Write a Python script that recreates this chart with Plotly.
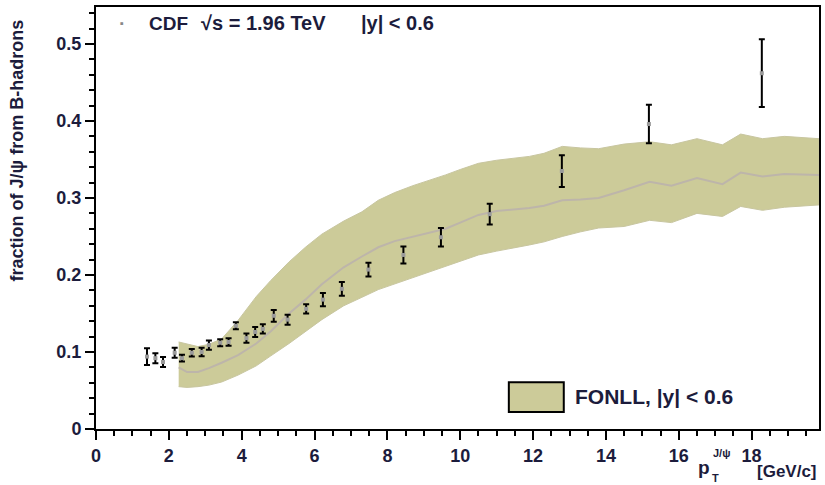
import plotly.graph_objects as go

# CDF data points
pt = [1.40, 1.63, 1.84, 2.16, 2.36, 2.63, 2.90, 3.10, 3.41, 3.64, 3.84, 4.13, 4.37, 4.58,
      4.88, 5.26, 5.77, 6.23, 6.75, 7.48, 8.44, 9.47, 10.81, 12.79, 15.18, 18.28]
frac = [0.094, 0.092, 0.087, 0.099, 0.092, 0.099, 0.100, 0.109, 0.112, 0.113, 0.134, 0.118,
        0.126, 0.130, 0.147, 0.142, 0.156, 0.168, 0.182, 0.207, 0.226, 0.249, 0.279, 0.335,
        0.396, 0.462]
err = [0.011, 0.0065, 0.0065, 0.0065, 0.0045, 0.005, 0.0055, 0.006, 0.0045, 0.005, 0.0045,
       0.006, 0.0065, 0.006, 0.0076, 0.0065, 0.006, 0.0087, 0.009, 0.009, 0.011, 0.012,
       0.0136, 0.0206, 0.025, 0.044]

# FONLL band
band_x = [2.27, 2.5, 2.8, 3.1, 3.45, 3.9, 4.4, 4.8, 5.3, 5.75, 6.2, 6.8, 7.3, 7.75, 8.2, 8.7,
          9.1, 9.6, 10.0, 10.5, 11.0, 11.4, 11.9, 12.3, 12.8, 13.3, 13.8, 14.5, 15.2, 15.8,
          16.5, 17.2, 17.7, 18.3, 18.9, 19.85]
band_hi = [0.113, 0.110, 0.107, 0.110, 0.117, 0.141, 0.172, 0.193, 0.217, 0.236, 0.253, 0.270,
           0.282, 0.297, 0.307, 0.316, 0.322, 0.330, 0.337, 0.345, 0.349, 0.351, 0.354, 0.358,
           0.367, 0.365, 0.364, 0.370, 0.373, 0.369, 0.377, 0.369, 0.383, 0.377, 0.380, 0.377]
band_lo = [0.055, 0.054, 0.055, 0.057, 0.061, 0.070, 0.082, 0.095, 0.111, 0.126, 0.142, 0.160,
           0.171, 0.181, 0.189, 0.197, 0.203, 0.211, 0.218, 0.226, 0.231, 0.235, 0.239, 0.243,
           0.250, 0.256, 0.261, 0.263, 0.271, 0.268, 0.280, 0.276, 0.289, 0.284, 0.288, 0.291]
band_mid = [0.080, 0.074, 0.074, 0.079, 0.086, 0.096, 0.111, 0.127, 0.150, 0.168, 0.188, 0.210,
            0.224, 0.236, 0.244, 0.250, 0.254, 0.260, 0.268, 0.278, 0.283, 0.285, 0.287, 0.290,
            0.297, 0.298, 0.300, 0.310, 0.321, 0.316, 0.326, 0.318, 0.333, 0.328, 0.331, 0.330]

x_ticks = [0, 2, 4, 6, 8, 10, 12, 14, 16, 18]
y_ticks = [0, 0.1, 0.2, 0.3, 0.4, 0.5]
y_ticklabels = ["0", "0.1", "0.2", "0.3", "0.4", "0.5"]

BAND = "#cccb99"
TXT = "#1c1c3c"
FONT = "Liberation Sans"

fig = go.Figure()
fig.add_trace(go.Scatter(
    x=band_x + band_x[::-1], y=band_hi + band_lo[::-1],
    fill="toself", fillcolor=BAND, line=dict(color="#c8c6a0", width=1),
    mode="lines", hoverinfo="skip", showlegend=False))
fig.add_trace(go.Scatter(
    x=band_x, y=band_mid, mode="lines",
    line=dict(color="#bdb5aa", width=2), showlegend=False))
fig.add_trace(go.Scatter(
    x=pt, y=frac, mode="markers",
    marker=dict(symbol="square", size=4, color="#9a9a9a"),
    error_y=dict(type="data", array=err, color="black", thickness=2, width=3),
    showlegend=False))

fig.update_layout(
    width=825, height=485,
    margin=dict(l=96, r=4, t=7, b=56),
    paper_bgcolor="white", plot_bgcolor="white",
    font=dict(family=FONT, color=TXT),
    xaxis=dict(range=[0, 19.85], tickvals=x_ticks, ticktext=["<b>%d</b>" % v for v in x_ticks],
               ticks="outside", ticklen=9, tickwidth=2,
               tickcolor="black", showline=True, linecolor="black", linewidth=2, mirror=True,
               showgrid=False, zeroline=False,
               tickfont=dict(family=FONT, size=18, color=TXT),
               minor=dict(dtick=0.5, ticks="outside", ticklen=5, tickwidth=2, tickcolor="black")),
    yaxis=dict(range=[0, 0.548], tickvals=y_ticks, ticktext=["<b>%s</b>" % t for t in y_ticklabels],
               ticks="outside", ticklen=9, tickwidth=2,
               tickcolor="black", showline=True, linecolor="black", linewidth=2, mirror=True,
               showgrid=False, zeroline=False,
               tickfont=dict(family=FONT, size=18, color=TXT),
               minor=dict(dtick=0.02, ticks="outside", ticklen=5, tickwidth=2, tickcolor="black")),
)

# legend box (FONLL)
fig.add_shape(type="rect", xref="paper", yref="paper", x0=0.571, x1=0.647, y0=0.040, y1=0.111,
              fillcolor=BAND, line=dict(color="black", width=2))
fig.add_annotation(xref="paper", yref="paper", x=0.660, y=0.076, xanchor="left", yanchor="middle",
                   text="<b>FONLL, |y| &lt; 0.6</b>", showarrow=False,
                   font=dict(family=FONT, size=21, color=TXT))
# top legend
fig.add_annotation(xref="paper", yref="paper", x=0.036, y=0.962, xanchor="center", yanchor="middle",
                   text="▪", showarrow=False, font=dict(family=FONT, size=11, color="#888888"))
fig.add_annotation(xref="paper", yref="paper", x=0.070, y=0.962, xanchor="left", yanchor="middle",
                   text="<b>CDF</b>", showarrow=False,
                   font=dict(family=FONT, size=19, color=TXT))
fig.add_annotation(xref="paper", yref="paper", x=0.143, y=0.962, xanchor="left", yanchor="middle",
                   text="<b>√s = 1.96 TeV</b>", showarrow=False,
                   font=dict(family=FONT, size=20, color=TXT))
fig.add_annotation(xref="paper", yref="paper", x=0.364, y=0.962, xanchor="left", yanchor="middle",
                   text="<b>|y| &lt; 0.6</b>", showarrow=False,
                   font=dict(family=FONT, size=20, color=TXT))
# x axis title (p_T^{J/psi} [GeV/c]) built from pieces
fig.add_annotation(xref="paper", yref="paper", x=1.0, y=-0.100, xanchor="right", yanchor="middle",
                   text="<b>[GeV/c]</b>", showarrow=False,
                   font=dict(family=FONT, size=17, color=TXT))
fig.add_annotation(xref="paper", yref="paper", x=0.852, y=-0.092, xanchor="right", yanchor="middle",
                   text="<b>p</b>", showarrow=False,
                   font=dict(family=FONT, size=19, color=TXT))
fig.add_annotation(xref="paper", yref="paper", x=0.851, y=-0.056, xanchor="left", yanchor="middle",
                   text="<b>J/ψ</b>", showarrow=False,
                   font=dict(family=FONT, size=11, color=TXT))
fig.add_annotation(xref="paper", yref="paper", x=0.849, y=-0.117, xanchor="left", yanchor="middle",
                   text="<b>T</b>", showarrow=False,
                   font=dict(family=FONT, size=11, color=TXT))
# y axis title
fig.add_annotation(xref="paper", yref="paper", x=-0.108, y=0.66, xanchor="center", yanchor="middle",
                   textangle=-90, text="<b>fraction of J/ψ from B-hadrons</b>", showarrow=False,
                   font=dict(family=FONT, size=18, color=TXT))

fig.write_html("out.html", post_script="document.body.style.margin='0';",
               config={"displayModeBar": False})
